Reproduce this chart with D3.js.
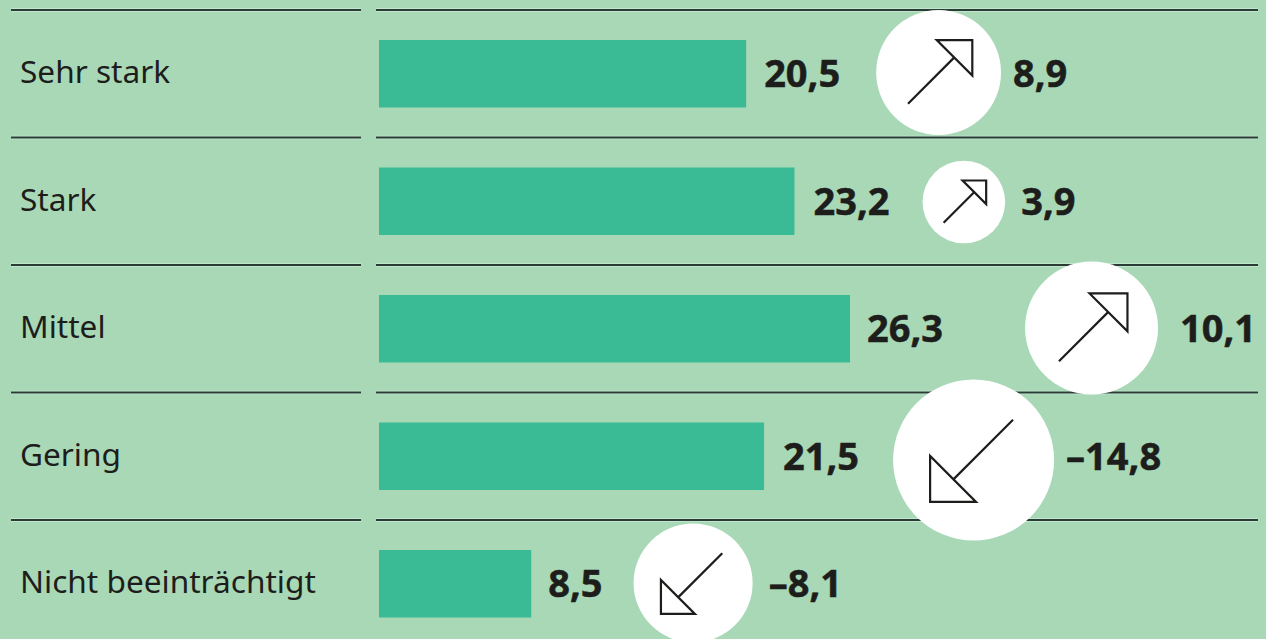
<!DOCTYPE html>
<html>
<head>
<meta charset="utf-8">
<script src="https://cdnjs.cloudflare.com/ajax/libs/d3/7.8.5/d3.min.js"></script>
<style>
  html, body { margin: 0; padding: 0; background: #a8d8b6; overflow: hidden; }
  text { font-family: "Noto Sans", sans-serif; fill: #1d1d1b; }
  .num { font-size: 38px; font-weight: 700; stroke: #1d1d1b; stroke-width: 0.5px; }
</style>
</head>
<body>
<div id="chart"></div>
<script>
const categories = ["Sehr stark", "Stark", "Mittel", "Gering", "Nicht beeinträchtigt"];
const shares = [20.5, 23.2, 26.3, 21.5, 8.5];
const changes = [8.9, 3.9, 10.1, -14.8, -8.1];

const width = 1266, height = 639;
const fmt = v => (v < 0 ? "–" : "") + d3.format(".1f")(Math.abs(v)).replace(".", ",");

// hand placed in the original, so the gaps differ per row
const labelGap = [18, 19, 17, 19, 17];
const circleGap = [36, 33, 82, 34, 31];
const changeGap = [12, 16, 22, 12, 16];
const circleDy = [-0.5, 1.5, 0, 4.5, 0];

const svg = d3.select("#chart")
    .append("svg")
    .attr("width", width)
    .attr("height", height)
    .style("display", "block");

const rows = categories.map((c, i) => ({ cat: c, share: shares[i], change: changes[i], i: i }));

const y = d3.scaleBand().domain(categories).range([10, 647.5]);
const x = d3.scaleLinear().domain([0, 26.3]).range([379, 850]);
const r = d3.scaleSqrt().domain([0, 14.8]).range([0, 80.5]);

// separators, each with the pale edge the printed rules have
[[11, 361], [376, 1258]].forEach(([x1, x2]) => {
    [["#c6ecd2", 3.6], ["#2b3c36", 2]].forEach(([col, w]) => {
        svg.append("g").selectAll("line")
            .data(categories)
            .enter()
            .append("line")
            .attr("x1", x1)
            .attr("x2", x2)
            .attr("y1", d => y(d))
            .attr("y2", d => y(d))
            .attr("stroke", col)
            .attr("stroke-width", w);
    });
});

// row labels
svg.append("g").selectAll("text")
    .data(rows)
    .enter()
    .append("text")
    .attr("x", 20)
    .attr("y", d => y(d.cat) + 73)
    .attr("font-size", 31.6)
    .text(d => d.cat);

// bars
svg.append("g").selectAll("rect")
    .data(rows)
    .enter()
    .append("rect")
    .attr("x", x(0))
    .attr("y", d => y(d.cat) + 30)
    .attr("width", d => x(d.share) - x(0))
    .attr("height", 67.5)
    .attr("fill", "#3bbb95");

// share values, right of the bar
const shareText = svg.append("g").selectAll("text")
    .data(rows)
    .enter()
    .append("text")
    .attr("class", "num")
    .attr("x", d => x(d.share) + labelGap[d.i])
    .attr("y", d => y(d.cat) + 77)
    .text(d => fmt(d.share));

// circle goes after the share value, so it needs the measured width
rows.forEach((d, i) => {
    const end = x(d.share) + labelGap[i] + shareText.nodes()[i].getComputedTextLength();
    d.radius = r(Math.abs(d.change));
    d.cx = end + circleGap[i] + d.radius;
});

const marks = svg.append("g").selectAll("g")
    .data(rows)
    .enter()
    .append("g")
    .attr("transform", d => `translate(${d.cx},${y(d.cat) + 63 + circleDy[d.i]})`);

marks.append("circle")
    .attr("r", d => d.radius)
    .attr("fill", "white");

// arrow drawn pointing up-right on a unit circle, flipped for falling values
marks.append("path")
    .attr("d", "M-.49,.5L.26,-.25M-.03,-.52L.54,-.52L.54,.05Z")
    .attr("transform", d => `scale(${d.change < 0 ? -d.radius : d.radius})`)
    .attr("fill", "none")
    .attr("stroke", "#1d1d1b")
    .attr("stroke-width", d => 2.2 / d.radius);

// change values, right of the circle
svg.append("g").selectAll("text")
    .data(rows)
    .enter()
    .append("text")
    .attr("class", "num")
    .attr("x", d => d.cx + d.radius + changeGap[d.i])
    .attr("y", d => y(d.cat) + 77)
    .text(d => fmt(d.change));
</script>
</body>
</html>
